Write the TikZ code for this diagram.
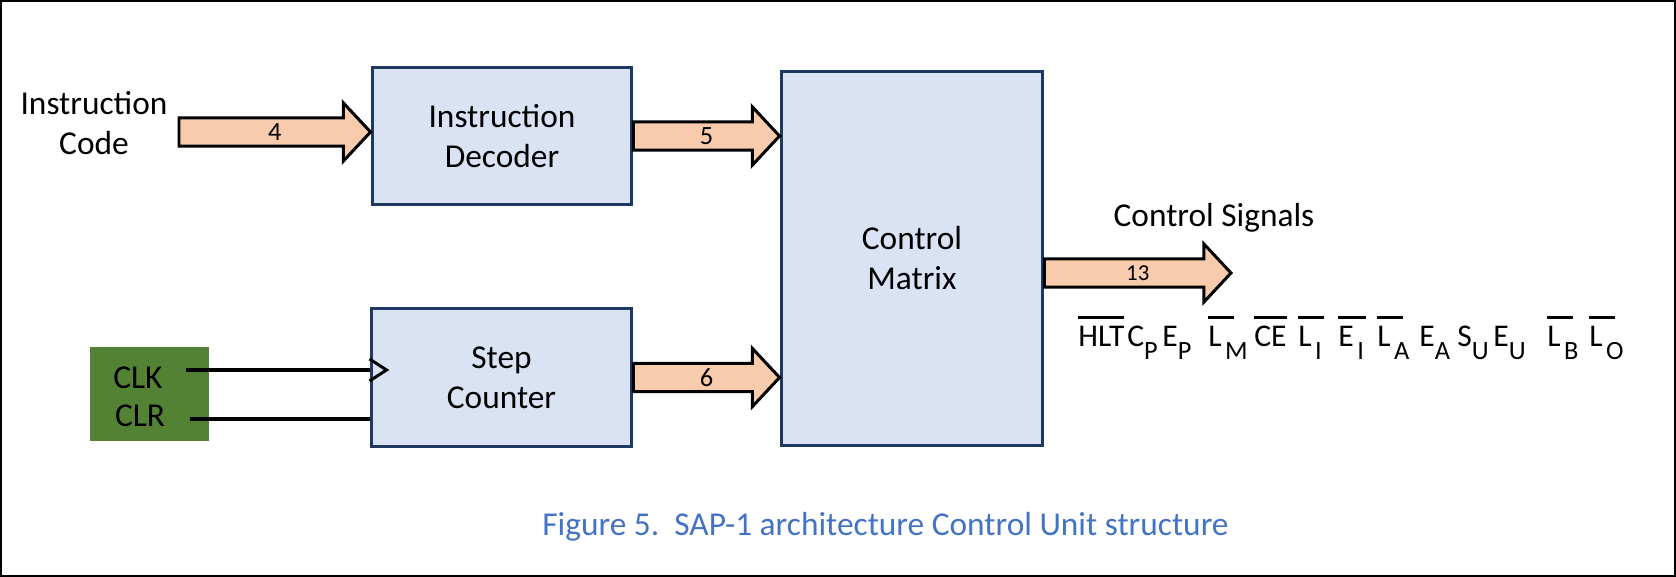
\documentclass[tikz,border=0pt]{standalone}
\usepackage{fontspec}
\setmainfont{Carlito}
\usepackage{xcolor}
\usepackage{tikz}
\usetikzlibrary{calc}

\definecolor{boxfill}{HTML}{DAE3F3}
\definecolor{boxline}{HTML}{1F3864}
\definecolor{busfill}{HTML}{F8CBAD}
\definecolor{clkgreen}{HTML}{548235}
\definecolor{capblue}{HTML}{4472C4}

% signal names: overbar and lowered index
\newcommand{\ovl}[1]{\setbox0\hbox{#1}\rlap{\raisebox{0.9em}{\rule{\wd0}{1.3pt}}}\box0}
\newcommand{\sub}[1]{\raisebox{-7pt}{\fontsize{15}{15}\selectfont #1}}
\newcommand{\nsig}[2]{\ovl{#1\kern7pt}\kern-5pt\sub{#2}}

\tikzset{
  blk/.style={draw=boxline, line width=1.7pt, fill=boxfill, align=center},
  bus/.style={draw=black, line width=1.7pt, fill=busfill, line join=miter},
  buslbl/.style={font=\fontsize{15}{15}\selectfont, inner sep=0pt},
  wire/.style={draw=black, line width=2pt},
}

% wide bus arrow between two points on one level
\newcommand{\busarrow}[2]{%
  \filldraw[bus] let \p1=(#1), \p2=(#2) in
    (\x1,\y1+8pt) -- (\x2-15.4pt,\y1+8pt) -- (\x2-15.4pt,\y1+16.5pt) -- (\x2,\y1)
    -- (\x2-15.4pt,\y1-16.5pt) -- (\x2-15.4pt,\y1-8pt) -- (\x1,\y1-8pt) -- cycle;}

\begin{document}
\begin{tikzpicture}[x=0.02cm, y=-0.02cm, font=\fontsize{19}{22.8}\selectfont]
    \useasboundingbox (0,0) rectangle (1676,577);
    % Frame
    \draw[line width=1.4pt] (1.2,1.2) rectangle (1674.8,575.8);

    % Blocks
    \node[blk, minimum width=5.2cm, minimum height=2.76cm] (dec) at (502,136) {Instruction\\Decoder};
    \node[blk, minimum width=5.22cm, minimum height=2.78cm] (step) at (501.5,377.5) {Step\\Counter};
    \node[blk, minimum width=5.24cm, minimum height=7.5cm] (cm) at (912,258.5) {Control\\Matrix};
    \node[fill=clkgreen, minimum width=2.38cm, minimum height=1.88cm] (clkbox) at (149.5,394) {};
    \node (clk) at (138,378) {CLK};
    \node (clr) at (140,416) {CLR};

    % Inputs
    \node[align=center] (icode) at (94,123) {Instruction\\Code};
    \coordinate (icin) at (179,132);
    \busarrow{icin}{icin -| dec.west}
    \node[buslbl] (lbl4) at ($(icin)!0.5!(icin -| dec.west)$) {4};

    \coordinate (clkin) at (186,370);
    \coordinate (clrin) at (190,419);
    \draw[wire] (clkin) -- (clkin -| step.west);
    \draw[wire] (clrin) -- (clrin -| step.west);
    \draw[wire, line width=1.7pt, line join=miter] ($(clkin -| step.west)+(0,-11)$) -- ++(17,11) -- ++(-17,11);

    % Buses into the matrix
    \busarrow{dec.east}{dec.east -| cm.west}
    \node[buslbl] (lbl5) at ($(dec.east)!0.5!(dec.east -| cm.west)$) {5};
    \busarrow{step.east}{step.east -| cm.west}
    \node[buslbl] (lbl6) at ($(step.east)!0.5!(step.east -| cm.west)$) {6};

    % Output
    \coordinate (csout) at (1231,273);
    \busarrow{csout -| cm.east}{csout}
    \node[buslbl, font=\fontsize{13}{13}\selectfont] (lbl13) at ($(csout -| cm.east)!0.5!(csout)$) {13};
    \node[anchor=base] (cslbl) at (1214,227) {Control Signals};

    \foreach \x/\s in {1078/{\ovl{HLT}}, 1127/{C\sub{P}}, 1162/{E\sub{P}}, 1208/{\nsig{L}{M}},
        1254/{\ovl{CE}}, 1298/{\nsig{L}{I}}, 1338/{\nsig{E}{I}}, 1377/{\nsig{L}{A}},
        1419/{E\sub{A}}, 1457/{S\sub{U}}, 1493/{E\sub{U}}, 1547/{\nsig{L}{B}}, 1589/{\nsig{L}{O}}}
        \node[anchor=base west, inner sep=0pt, font=\fontsize{18}{18}\selectfont] (sig\x) at (\x,347) {\s};

    % Caption
    \node[anchor=base west, inner sep=0pt, text=capblue] (cap) at (542,535) {Figure 5.\ \ SAP-1 architecture Control Unit structure};
\end{tikzpicture}
\end{document}
